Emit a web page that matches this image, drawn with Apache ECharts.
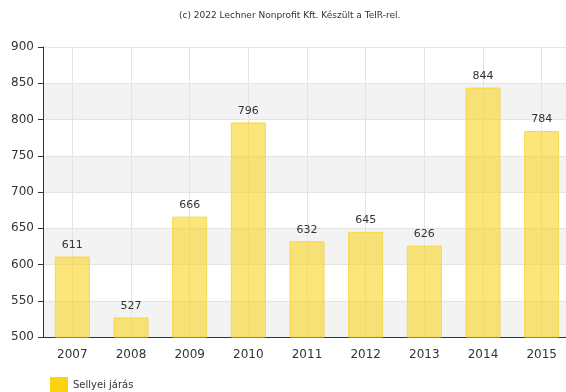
<!DOCTYPE html>
<html><head><meta charset="utf-8">
<script src="https://cdn.jsdelivr.net/npm/echarts@6/dist/echarts.min.js"></script>
<style>html,body{margin:0;padding:0;background:#fff;overflow:hidden}#c{width:571px;height:392px}</style>
</head><body><div id="c"></div>
<script>
const categories = ['2007','2008','2009','2010','2011','2012','2013','2014','2015'];
const values = [611, 527, 666, 796, 632, 645, 626, 844, 784];
const seriesName = 'Sellyei járás';
const titleText = '(c) 2022 Lechner Nonprofit Kft. Készült a TeIR-rel.';

const chart = echarts.init(document.getElementById('c'));
chart.setOption({
  animation: false,
  textStyle: {fontFamily: 'DejaVu Sans'},
  title: {text: titleText, left: 174, top: 6, padding: 5, textStyle: {fontSize: 9, fontWeight: 'normal', color: '#333', fontFamily: 'DejaVu Sans'}},
  legend: {data: [{name: seriesName, itemStyle: {color: '#fcd310', borderWidth: 0}}], left: 50, top: 377, padding: 0, icon: 'rect', itemWidth: 18, itemHeight: 16, itemGap: 5,
    textStyle: {fontSize: 10, color: '#333'}},
  grid: {left: 43, top: 47, bottom: 55, right: 0},
  xAxis: {
    type: 'category', data: categories,
    axisLine: {lineStyle: {color: '#333', width: 1}},
    axisTick: {alignWithLabel: true, length: 5, lineStyle: {color: '#333'}},
    axisLabel: {fontSize: 12, color: '#333', margin: 12},
    splitLine: {show: true, alignWithLabel: true, lineStyle: {color: '#e4e4e4'}}
  },
  yAxis: {
    type: 'value', min: 500, max: 900, interval: 50,
    axisLine: {show: true, lineStyle: {color: '#333', width: 1}},
    axisTick: {show: true, length: 5, lineStyle: {color: '#333'}},
    axisLabel: {fontSize: 12, color: '#333', margin: 9},
    splitLine: {show: true, lineStyle: {color: '#e4e4e4'}},
    splitArea: {show: true, areaStyle: {color: ['#f3f3f3', '#ffffff']}}
  },
  series: [{
    name: seriesName, type: 'bar', data: values, barWidth: 35,
    itemStyle: {color: 'rgba(250,212,30,0.58)', borderColor: '#f5d84a', borderWidth: 1},
    label: {show: true, position: 'top', fontSize: 11, color: '#333', distance: 6}
  }]
});
</script></body></html>
